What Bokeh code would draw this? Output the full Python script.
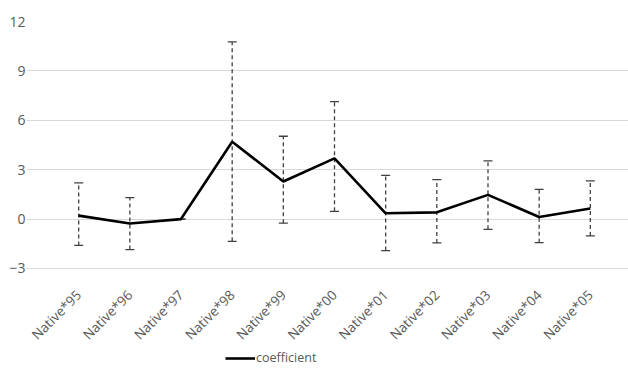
from bokeh.plotting import figure
from bokeh.models import (ColumnDataSource, FactorRange, FixedTicker, Whisker,
                          TeeHead, Legend, LegendItem)
from bokeh.embed import file_html
from bokeh.resources import INLINE
import math

categories = ["Native*95", "Native*96", "Native*97", "Native*98", "Native*99",
              "Native*00", "Native*01", "Native*02", "Native*03", "Native*04",
              "Native*05"]
coefficient = [0.21, -0.27, 0.0, 4.70, 2.28, 3.69, 0.35, 0.41, 1.47, 0.13, 0.64]
upper_ci = [2.20, 1.30, 0.0, 10.76, 5.03, 7.13, 2.66, 2.40, 3.53, 1.81, 2.32]
lower_ci = [-1.60, -1.85, 0.0, -1.35, -0.25, 0.47, -1.91, -1.45, -0.62, -1.43, -1.02]
y_ticks = [-3, 0, 3, 6, 9, 12]

src = ColumnDataSource(dict(x=categories, y=coefficient, upper=upper_ci, lower=lower_ci))

# frame extends below the -3 line (and a little to the left) so the rotated
# labels and the legend sit inside it
p = figure(frame_width=616, frame_height=354,
           x_range=FactorRange(*categories, range_padding=0.52,
                               range_padding_units="absolute"),
           y_range=(-9.5, 12), output_backend="svg", toolbar_location=None,
           min_border_left=26, min_border_right=0, min_border_top=21,
           min_border_bottom=0)
p.outline_line_color = None
p.background_fill_color = "white"

err_color = "#404040"
whisk = Whisker(source=src, base="x", upper="upper", lower="lower",
                line_color=err_color, line_width=1.3, line_dash="4 3",
                upper_head=TeeHead(size=9, line_color=err_color, line_width=1.3),
                lower_head=TeeHead(size=9, line_color=err_color, line_width=1.3))
p.add_layout(whisk)

r = p.line("x", "y", source=src, line_color="black", line_width=2.6)

p.yaxis.ticker = FixedTicker(ticks=y_ticks)
p.yaxis.axis_line_color = None
p.yaxis.major_tick_line_color = None
p.yaxis.minor_tick_line_color = None
p.yaxis.major_tick_out = 0
p.yaxis.major_label_text_font = "Open Sans"
p.yaxis.major_label_text_font_size = "14px"
p.yaxis.major_label_text_color = "#595959"
p.yaxis.major_label_standoff = 1

p.xaxis.fixed_location = -3
p.xaxis.axis_line_color = None
p.xaxis.major_tick_line_color = None
p.xaxis.minor_tick_line_color = None
p.xaxis.major_tick_out = 0
p.xaxis.major_label_orientation = math.pi / 4
p.xaxis.major_label_text_font = "Open Sans"
p.xaxis.major_label_text_font_size = "13.5px"
p.xaxis.major_label_text_color = "#595959"
p.xaxis.major_label_standoff = 24

p.xgrid.grid_line_color = None
p.ygrid.grid_line_color = "#d9d9d9"
p.ygrid.grid_line_width = 1.2
p.ygrid.ticker = FixedTicker(ticks=y_ticks)
p.ygrid.bounds = (0, 11.3)

legend = Legend(items=[LegendItem(label="coefficient", renderers=[r])],
                orientation="horizontal", location=(199, 9),
                label_text_font="Open Sans", label_text_font_size="12.5px",
                label_text_color="#595959", glyph_width=30, label_standoff=1,
                label_height=14, glyph_height=14,
                border_line_color=None, background_fill_alpha=0,
                padding=2, margin=0)
p.add_layout(legend)

open("out.html", "w").write(file_html(p, INLINE))
